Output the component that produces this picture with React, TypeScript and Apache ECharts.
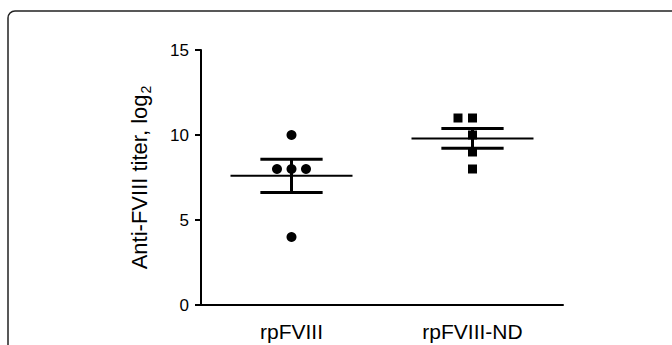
import React, { useEffect, useRef } from "react";
import * as echarts from "echarts";

const categories = ["rpFVIII", "rpFVIII-ND"];
const rpFVIII = [10, 8, 8, 8, 4];
const rpFVIII_ND = [11, 11, 10, 9, 8];
// horizontal jitter (px) of each point, as drawn in the plot
const rpFVIIIJitter = [0, -14.5, 0, 14.5, 0];
const rpFVIII_NDJitter = [-14.5, 0, 0, 0, 0];
const yTicks = [0, 5, 10, 15];

function meanSem(v: number[]) {
  const n = v.length;
  const m = v.reduce((a, b) => a + b, 0) / n;
  const sd = Math.sqrt(v.reduce((a, b) => a + (b - m) * (b - m), 0) / (n - 1));
  const sem = sd / Math.sqrt(n);
  return [m, m - sem, m + sem];
}

export default function App() {
  const ref = useRef<HTMLDivElement>(null);
  useEffect(() => {
    if (!ref.current) return;
    const chart = echarts.init(ref.current, null, { renderer: "svg" });
    const groups = [rpFVIII, rpFVIII_ND];
    const stats = groups.map((g, i) => [i, ...meanSem(g)]);
    const font = "Liberation Sans, Arial, sans-serif";
    chart.setOption({
      animation: false,
      grid: { left: 201, right: 109, top: 50, bottom: 40, outerBoundsMode: "none", containLabel: false },
      xAxis: {
        type: "category",
        data: categories,
        axisLine: { lineStyle: { color: "#000", width: 2 } },
        axisTick: { alignWithLabel: true, length: 8, lineStyle: { color: "#000", width: 2 } },
        axisLabel: { color: "#000", fontSize: 21, fontFamily: font, margin: 16 },
        splitLine: { show: false },
      },
      yAxis: {
        type: "value",
        min: yTicks[0],
        max: yTicks[yTicks.length - 1],
        interval: 5,
        name: "{a|Anti-FVIII titer, log}{s|2}",
        nameLocation: "middle",
        nameGap: 51,
        nameRotate: 90,
        nameTextStyle: {
          rich: {
            a: { fontSize: 22, color: "#000", fontFamily: font },
            s: { fontSize: 14, color: "#000", fontFamily: font, verticalAlign: "bottom", padding: [0, 0, -3, 1] },
          },
        },
        axisLine: { show: true, lineStyle: { color: "#000", width: 2 } },
        axisTick: { show: true, length: 6, lineStyle: { color: "#000", width: 2 } },
        axisLabel: { color: "#000", fontSize: 17, fontFamily: font, margin: 12 },
        splitLine: { show: false },
      },
      graphic: [
        {
          type: "rect",
          shape: { x: 8, y: 11, width: 720, height: 420, r: 7 },
          style: { fill: "none", stroke: "#222", lineWidth: 1.5 },
          silent: true,
        },
      ],
      series: [
        {
          type: "scatter",
          symbol: "circle",
          symbolSize: 10,
          itemStyle: { color: "#000", opacity: 1 },
          data: rpFVIII.map((v, i) => ({ value: [0, v], symbolOffset: [rpFVIIIJitter[i], 0] })),
          z: 2,
        },
        {
          type: "scatter",
          symbol: "rect",
          symbolSize: 9,
          itemStyle: { color: "#000", opacity: 1 },
          data: rpFVIII_ND.map((v, i) => ({ value: [1, v], symbolOffset: [rpFVIII_NDJitter[i], 0] })),
          z: 2,
        },
        {
          type: "custom",
          z: 3,
          encode: { x: 0, y: [1, 2, 3] },
          data: stats,
          renderItem: (params: any, api: any) => {
            const c = api.value(0);
            const pm = api.coord([c, api.value(1)]);
            const pl = api.coord([c, api.value(2)]);
            const ph = api.coord([c, api.value(3)]);
            const band = api.size([1, 0])[0];
            const hw = band * 0.337;
            const cw = band * 0.172;
            const st = { stroke: "#000", lineWidth: 3 };
            return {
              type: "group",
              children: [
                { type: "line", shape: { x1: pm[0] - hw, y1: pm[1], x2: pm[0] + hw, y2: pm[1] }, style: { stroke: "#000", lineWidth: 2 } },
                { type: "line", shape: { x1: pl[0], y1: pl[1], x2: ph[0], y2: ph[1] }, style: st },
                { type: "line", shape: { x1: pl[0] - cw, y1: pl[1], x2: pl[0] + cw, y2: pl[1] }, style: st },
                { type: "line", shape: { x1: ph[0] - cw, y1: ph[1], x2: ph[0] + cw, y2: ph[1] }, style: st },
              ],
            };
          },
        },
      ],
    });
    return () => chart.dispose();
  }, []);
  return (
    <div
      ref={ref}
      style={{ position: "fixed", left: 0, top: 0, width: 672, height: 345, background: "#fff" }}
    />
  );
}
